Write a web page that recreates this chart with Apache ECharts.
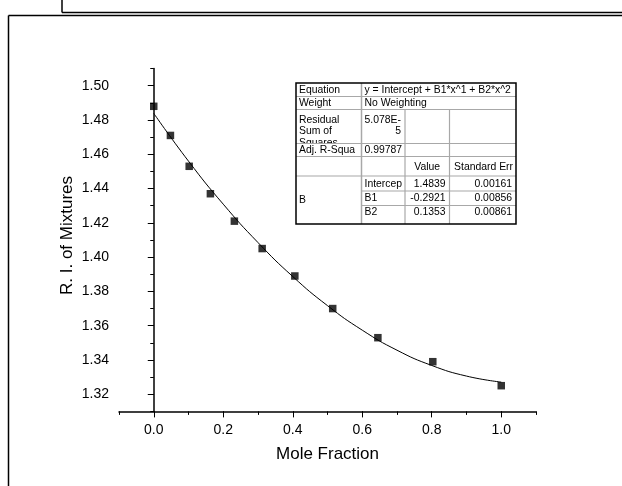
<!DOCTYPE html>
<html>
<head>
<meta charset="utf-8">
<script src="https://cdn.jsdelivr.net/npm/echarts@6.0.0/dist/echarts.min.js"></script>
<style>
  html, body { margin: 0; padding: 0; background: #fff; }
  #chart { width: 622px; height: 486px; }
</style>
</head>
<body>
<div id="chart"></div>
<script>
// measured points
const moleFraction = [0, 0.048, 0.102, 0.163, 0.232, 0.312, 0.406, 0.515, 0.645, 0.803, 1.0];
const refIndex = [1.488, 1.471, 1.453, 1.437, 1.421, 1.405, 1.389, 1.370, 1.353, 1.339, 1.325];

// fitted curve
const fitX = [0, 0.1, 0.2, 0.3, 0.4, 0.5, 0.6, 0.7, 0.8, 0.9, 1.0];
const fitY = [1.4839, 1.4560, 1.4309, 1.4085, 1.3887, 1.3717, 1.3574, 1.3457, 1.3368, 1.3306, 1.3271];

// tick labels
const xTicks = [0, 0.2, 0.4, 0.6, 0.8, 1.0];
const yTicks = [1.32, 1.34, 1.36, 1.38, 1.40, 1.42, 1.44, 1.46, 1.48, 1.50];

// fit table text
const eqText = 'y = Intercept + B1*x^1 + B2*x^2';
const weightText = 'No Weighting';
const rssText = ['5.078E-', '5'];
const adjR2Text = '0.99787';
const paramNames = ['Intercep', 'B1', 'B2'];
const paramValues = ['1.4839', '-0.2921', '0.1353'];
const paramErrors = ['0.00161', '0.00856', '0.00861'];

const FONT = '"Liberation Sans", Arial, sans-serif';
const tFont = '10.4px ' + FONT;

// table geometry
const colX = [296, 361.5, 405, 449.5, 516];
const rowY = [83, 96.5, 109.5, 143.5, 156.5, 176, 191, 205.5, 224];
const textY = [90, 103, 0, 150, 167, 184, 198, 212];

function txt(x, y, s, align, va, z) {
  return {
    type: 'text', x: x, y: y, z: z || 4,
    style: { text: s, font: tFont, fill: '#000', align: align || 'left', textAlign: align || 'left',
             verticalAlign: va || 'middle', textVerticalAlign: va || 'middle', lineHeight: 11.5 }
  };
}
function ln(x1, y1, x2, y2, c, w, z) {
  return { type: 'line', z: z || 6, shape: { x1: x1, y1: y1, x2: x2, y2: y2 },
           style: { stroke: c, lineWidth: w } };
}

const g = [];
// page frame
g.push(ln(62, 0, 62, 12.5, '#000', 1.5));
g.push(ln(62, 12.5, 622, 12.5, '#000', 1.5));
g.push(ln(8.5, 15.5, 622, 15.5, '#000', 1.5));
g.push(ln(8.5, 15.5, 8.5, 486, '#000', 1.5));

// table background
g.push({ type: 'rect', z: 1, shape: { x: colX[0], y: rowY[0], width: colX[4] - colX[0], height: rowY[8] - rowY[0] },
         style: { fill: '#fff' } });
g.push(txt(colX[0] + 3, textY[0], 'Equation'));
g.push(txt(colX[1] + 3, textY[0], eqText));
g.push(txt(colX[0] + 3, textY[1], 'Weight'));
g.push(txt(colX[1] + 3, textY[1], weightText));
g.push(txt(colX[0] + 3, 114, 'Residual\nSum of\nSquares', 'left', 'top', 2));
g.push(txt(colX[1] + 3, 114, rssText[0], 'left', 'top', 2));
g.push(txt(colX[2] - 4, 125.5, rssText[1], 'right', 'top', 2));
// cover overflow of residual cell
g.push({ type: 'rect', z: 3, shape: { x: colX[0], y: rowY[3], width: colX[4] - colX[0], height: rowY[4] - rowY[3] },
         style: { fill: '#fff' } });
g.push(txt(colX[0] + 3, textY[3], 'Adj. R-Squa'));
g.push(txt(colX[1] + 3, textY[3], adjR2Text));
g.push(txt((colX[2] + colX[3]) / 2, textY[4], 'Value', 'center'));
g.push(txt(colX[4] - 3, textY[4], 'Standard Err', 'right'));
g.push(txt(colX[0] + 3, 200, 'B'));
for (let i = 0; i < 3; i++) {
  g.push(txt(colX[1] + 3, textY[5 + i], paramNames[i]));
  g.push(txt(colX[3] - 4, textY[5 + i], paramValues[i], 'right'));
  g.push(txt(colX[4] - 4, textY[5 + i], paramErrors[i], 'right'));
}
// inner grid lines
const gc = '#a8a8a8';
for (let r = 1; r <= 5; r++) g.push(ln(colX[0], rowY[r], colX[4], rowY[r], gc, 1.2, 5));
for (let r = 6; r <= 7; r++) g.push(ln(colX[1], rowY[r], colX[4], rowY[r], gc, 1.2, 5));
g.push(ln(colX[1], rowY[0], colX[1], rowY[8], gc, 1.5, 5));
g.push(ln(colX[2], rowY[2], colX[2], rowY[8], gc, 1.2, 5));
g.push(ln(colX[3], rowY[2], colX[3], rowY[8], gc, 1.2, 5));
// outer border
g.push({ type: 'rect', z: 6, shape: { x: colX[0], y: rowY[0], width: colX[4] - colX[0], height: rowY[8] - rowY[0] },
         style: { fill: null, stroke: '#000', lineWidth: 1.5 } });

const axisLine = { show: true, lineStyle: { color: '#000', width: 1.5 } };
const labelStyle = { color: '#000', fontFamily: FONT, fontSize: 14 };

const option = {
  backgroundColor: '#fff',
  animation: false,
  grid: { left: 119, right: 86, top: 68.6, bottom: 74.6 },
  xAxis: [
    { type: 'value', min: -0.1, max: 1.1, interval: 0.1, position: 'bottom',
      axisLine: axisLine, splitLine: { show: false },
      axisTick: { show: true, length: 3.5, lineStyle: { color: '#000', width: 1 } },
      axisLabel: { show: false } },
    { type: 'value', min: -0.1, max: 1.1, position: 'bottom',
      axisLine: { show: false }, splitLine: { show: false },
      axisTick: { show: true, customValues: xTicks, length: 6, lineStyle: { color: '#000', width: 1 } },
      axisLabel: Object.assign({ customValues: xTicks, margin: 12, formatter: v => v.toFixed(1) }, labelStyle),
      name: 'Mole Fraction', nameLocation: 'middle', nameGap: 34, nameMoveOverlap: false,
      nameTextStyle: { color: '#000', fontFamily: FONT, fontSize: 17 } }
  ],
  yAxis: [
    { type: 'value', min: 1.31, max: 1.51, interval: 0.01, position: 'left',
      axisLine: axisLine, splitLine: { show: false },
      axisTick: { show: true, length: 3.5, lineStyle: { color: '#000', width: 1 } },
      axisLabel: { show: false } },
    { type: 'value', min: 1.31, max: 1.51, position: 'left',
      axisLine: { show: false }, splitLine: { show: false },
      axisTick: { show: true, customValues: yTicks, length: 6, lineStyle: { color: '#000', width: 1 } },
      axisLabel: Object.assign({ customValues: yTicks, margin: 10, formatter: v => v.toFixed(2) }, labelStyle),
      name: 'R. I. of Mixtures', nameLocation: 'middle', nameGap: 43, nameMoveOverlap: false,
      nameTextStyle: { color: '#000', fontFamily: FONT, fontSize: 17, padding: [0, 0, 0, 9] } }
  ],
  series: [
    { type: 'line', xAxisIndex: 0, yAxisIndex: 0, smooth: true, showSymbol: false,
      lineStyle: { color: '#000', width: 1 },
      data: fitX.map((x, i) => [x, fitY[i]]) },
    { type: 'scatter', xAxisIndex: 0, yAxisIndex: 0, symbol: 'rect', symbolSize: 7.5,
      itemStyle: { color: '#000' },
      data: moleFraction.map((x, i) => [x, refIndex[i]]) }
  ],
  graphic: g
};

const chart = echarts.init(document.getElementById('chart'), null, { renderer: 'canvas' });
chart.setOption(option);
</script>
</body>
</html>
